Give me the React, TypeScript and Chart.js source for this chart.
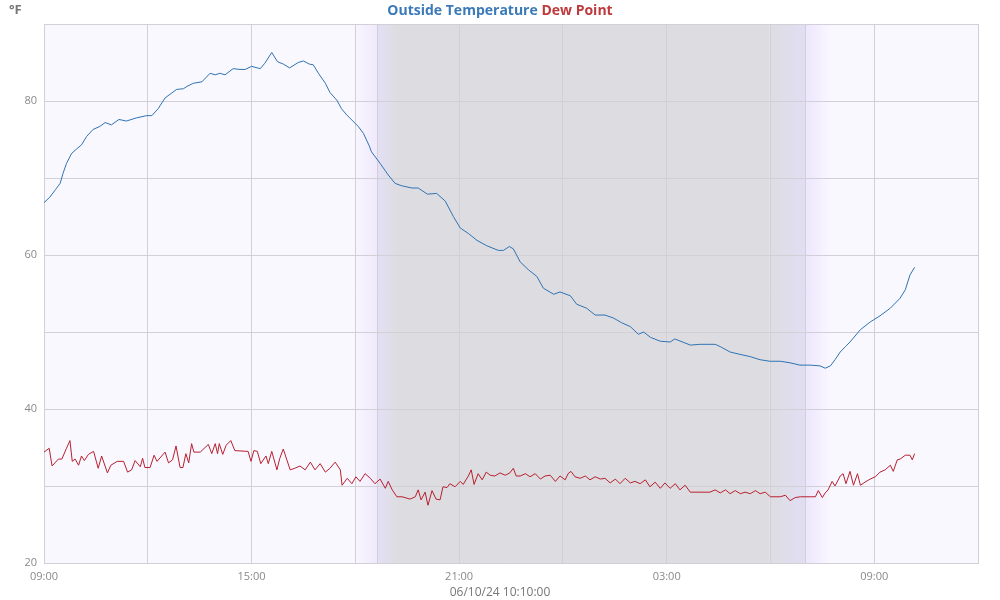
import React, { useEffect, useRef } from "react";
import { Chart, registerables } from "chart.js";

Chart.register(...registerables);

// minutes after 09:00 on the first day
const tempTimes = [0, 10, 20, 28, 33, 39, 48, 57, 65, 74, 85, 97, 106, 117, 130, 143, 160, 178, 187, 198, 210, 230, 242, 248, 259, 274, 288, 297, 305, 314, 328, 340, 349, 360, 375, 383, 395, 405, 415, 426, 441, 450, 460, 467, 476, 488, 496, 508, 516, 525, 537, 545, 554, 564, 568, 583, 597, 609, 620, 638, 649, 665, 681, 696, 710, 722, 736, 751, 768, 788, 797, 807, 814, 826, 840, 855, 866, 884, 895, 913, 924, 941, 956, 973, 988, 1002, 1017, 1031, 1040, 1052, 1069, 1086, 1094, 1121, 1138, 1164, 1173, 1190, 1207, 1225, 1242, 1259, 1277, 1294, 1311, 1329, 1346, 1355, 1364, 1372, 1381, 1390, 1398, 1416, 1433, 1450, 1468, 1485, 1494, 1502, 1510];
const tempValues = [66.8, 67.5, 68.5, 69.3, 70.6, 71.9, 73.2, 73.8, 74.3, 75.4, 76.3, 76.7, 77.2, 76.9, 77.6, 77.4, 77.8, 78.1, 78.1, 79.0, 80.4, 81.5, 81.6, 81.9, 82.3, 82.5, 83.6, 83.4, 83.6, 83.4, 84.2, 84.1, 84.1, 84.5, 84.2, 84.9, 86.3, 85.1, 84.8, 84.3, 85.0, 85.2, 84.8, 84.7, 83.6, 82.3, 81.1, 80.1, 79.0, 78.2, 77.3, 76.7, 75.8, 74.2, 73.4, 71.9, 70.4, 69.3, 69.0, 68.7, 68.7, 67.9, 68.0, 67.0, 65.0, 63.5, 62.8, 61.9, 61.2, 60.6, 60.6, 61.1, 60.8, 59.1, 58.1, 57.2, 55.7, 54.9, 55.2, 54.7, 53.6, 53.1, 52.2, 52.2, 51.8, 51.2, 50.7, 49.7, 50.0, 49.3, 48.8, 48.7, 49.1, 48.3, 48.4, 48.4, 48.1, 47.4, 47.1, 46.8, 46.4, 46.2, 46.2, 46.0, 45.7, 45.7, 45.6, 45.3, 45.6, 46.4, 47.4, 48.1, 48.7, 50.3, 51.3, 52.1, 53.1, 54.4, 55.5, 57.4, 58.4];

const dewTimes = [0, 9, 14, 25, 31, 39, 45, 49, 54, 60, 65, 70, 77, 86, 94, 100, 110, 116, 127, 138, 145, 152, 158, 167, 171, 175, 184, 191, 196, 210, 216, 223, 229, 236, 241, 246, 251, 256, 260, 271, 285, 291, 297, 301, 304, 310, 316, 324, 331, 352, 354, 359, 364, 370, 376, 385, 389, 395, 404, 409, 415, 427, 435, 444, 453, 462, 470, 479, 488, 496, 505, 514, 517, 526, 534, 541, 548, 557, 566, 574, 583, 592, 597, 604, 612, 621, 635, 644, 649, 654, 661, 666, 673, 680, 687, 692, 699, 704, 713, 722, 727, 736, 741, 746, 753, 760, 767, 774, 782, 791, 800, 808, 814, 819, 826, 835, 843, 852, 861, 869, 878, 887, 895, 904, 909, 914, 921, 930, 939, 947, 956, 965, 973, 982, 991, 999, 1008, 1017, 1025, 1034, 1043, 1051, 1060, 1069, 1077, 1086, 1095, 1103, 1112, 1121, 1138, 1155, 1164, 1173, 1182, 1190, 1199, 1208, 1216, 1225, 1234, 1242, 1251, 1260, 1277, 1286, 1294, 1303, 1312, 1329, 1338, 1343, 1350, 1355, 1360, 1367, 1372, 1381, 1386, 1391, 1398, 1404, 1411, 1416, 1424, 1433, 1442, 1450, 1459, 1468, 1473, 1480, 1485, 1494, 1502, 1506, 1510];
const dewValues = [34.4, 34.9, 32.6, 33.5, 33.5, 34.9, 35.9, 33.2, 33.5, 32.7, 33.9, 33.3, 34.1, 34.5, 32.3, 33.9, 31.7, 32.7, 33.2, 33.2, 31.8, 32.1, 33.3, 32.5, 33.6, 32.4, 32.4, 34.0, 33.2, 34.4, 33.0, 33.4, 35.2, 32.4, 32.4, 34.2, 33.0, 35.5, 34.4, 34.4, 35.4, 34.2, 35.5, 34.2, 35.5, 34.1, 35.3, 35.9, 34.6, 34.5, 34.5, 33.2, 34.6, 34.5, 32.9, 33.9, 32.9, 34.5, 32.1, 33.6, 34.8, 32.1, 32.3, 32.6, 32.1, 33.1, 32.1, 32.9, 31.8, 32.3, 33.1, 32.1, 30.1, 31.0, 30.3, 31.2, 30.6, 31.6, 31.0, 30.3, 30.9, 29.7, 30.6, 29.5, 28.6, 28.6, 28.3, 28.6, 29.5, 28.2, 29.2, 27.5, 29.4, 28.3, 28.2, 29.9, 29.8, 30.3, 29.9, 30.6, 30.2, 31.3, 32.1, 30.2, 31.6, 30.8, 31.8, 31.4, 31.3, 31.7, 31.4, 31.7, 32.3, 31.3, 31.3, 31.6, 31.2, 31.6, 30.9, 31.3, 31.4, 30.6, 31.3, 30.8, 31.6, 31.9, 31.2, 31.0, 31.3, 30.8, 31.2, 30.9, 31.0, 30.4, 30.9, 30.3, 31.0, 30.4, 30.6, 30.3, 30.8, 29.9, 30.5, 29.7, 30.4, 29.7, 30.3, 29.5, 30.1, 29.2, 29.2, 29.2, 29.5, 29.1, 29.5, 29.0, 29.4, 29.0, 29.2, 29.0, 29.4, 29.0, 29.2, 28.6, 28.6, 28.8, 28.1, 28.5, 28.6, 28.6, 28.6, 29.4, 28.5, 29.1, 29.5, 30.6, 30.0, 31.3, 31.6, 30.3, 31.9, 30.1, 31.6, 30.1, 30.5, 30.9, 31.2, 31.8, 32.1, 32.7, 31.9, 33.4, 33.5, 34.0, 34.0, 33.4, 34.2];

// night shading (minutes after 09:00)
const duskStart = 540;
const sunsetLine = 578;
const nightStart = 614;
const nightEnd = 1258;
const sunriseLine = 1320;
const dawnEnd = 1366;

const xMin = 0;
const xMax = 1620;
const yMin = 20;
const yMax = 90;

const seriesNames = ["Outside Temperature", "Dew Point"];
const unitLabel = "°F";
const stampLabel = "06/10/24 10:10:00";

const GRID = "#d2d0d6";

const shadePlugin = {
  id: "shade",
  beforeDraw(chart: any) {
    const { ctx, chartArea: a, scales } = chart;
    const x = scales.x;
    const px = (t: number) => x.getPixelForValue(t);
    ctx.save();
    ctx.fillStyle = "#faf8ff";
    ctx.fillRect(a.left, a.top, a.right - a.left, a.bottom - a.top);
    const h = a.bottom - a.top;
    const band = (t0: number, t1: number, c0: string, c1: string) => {
      const x0 = px(t0), x1 = px(t1);
      const g = ctx.createLinearGradient(x0, 0, x1, 0);
      g.addColorStop(0, c0);
      g.addColorStop(1, c1);
      ctx.fillStyle = g;
      ctx.fillRect(x0, a.top, x1 - x0, h);
    };
    band(duskStart, sunsetLine, "#f9f6fe", "#efe9fc");
    band(sunsetLine, nightStart, "#e3e0f5", "#dddde1");
    band(nightStart, nightEnd, "#dddde1", "#dddde1");
    band(nightEnd, sunriseLine, "#dddde1", "#e1def4");
    band(sunriseLine, dawnEnd, "#ede6fd", "#faf8ff");
    ctx.strokeStyle = GRID;
    ctx.lineWidth = 1;
    [sunsetLine, sunriseLine].forEach((t) => {
      const xx = Math.round(px(t)) + 0.5;
      ctx.beginPath();
      ctx.moveTo(xx, a.top);
      ctx.lineTo(xx, a.bottom);
      ctx.stroke();
    });
    ctx.restore();
  },
};

const toPoints = (ts: number[], vs: number[]) => ts.map((t, i) => ({ x: t, y: vs[i] }));

export default function App() {
  const ref = useRef<HTMLCanvasElement>(null);
  useEffect(() => {
    if (!ref.current) return;
    const chart = new Chart(ref.current, {
      type: "line",
      data: {
        datasets: [
          {
            label: seriesNames[0],
            data: toPoints(tempTimes, tempValues),
            borderColor: "#2f73b4",
            borderWidth: 1,
            pointRadius: 0,
            tension: 0,
          },
          {
            label: seriesNames[1],
            data: toPoints(dewTimes, dewValues),
            borderColor: "#b8202e",
            borderWidth: 1,
            pointRadius: 0,
            tension: 0,
          },
        ],
      },
      plugins: [shadePlugin],
      options: {
        animation: false,
        responsive: false,
        maintainAspectRatio: false,
        layout: { padding: { top: 24, right: 22, bottom: 0, left: 0 } },
        plugins: { legend: { display: false }, tooltip: { enabled: false }, title: { display: false } },
        scales: {
          x: {
            type: "linear",
            min: xMin,
            max: xMax,
            afterFit: (s: any) => { s.height = 37; },
            afterBuildTicks: (s: any) => {
              const t = [];
              for (let v = xMin; v <= xMax; v += 180) t.push({ value: v });
              s.ticks = t;
            },
            ticks: {
              autoSkip: false,
              maxRotation: 0,
              padding: 7,
              color: "#8a8a8a",
              font: { family: "'Open Sans'", size: 11 },
              callback: (v: any) => {
                if (v % 360 !== 0) return "";
                const h = Math.floor((540 + v) / 60) % 24;
                return String(h).padStart(2, "0") + ":00";
              },
            },
            grid: { color: GRID, drawTicks: false },
            border: { display: true, color: GRID },
          },
          y: {
            min: yMin,
            max: yMax,
            afterFit: (s: any) => { s.width = 44; },
            ticks: {
              stepSize: 10,
              padding: 7,
              color: "#8a8a8a",
              font: { family: "'Open Sans'", size: 11 },
              callback: (v: any) => (v % 20 === 0 ? String(v) : ""),
            },
            grid: { color: GRID, drawTicks: false },
            border: { display: true, color: GRID },
          },
        },
      },
    });
    return () => chart.destroy();
  }, []);

  return (
    <div style={{ position: "fixed", left: 0, top: 0, width: 1000, height: 600, background: "#fff", fontFamily: "'Open Sans', sans-serif" }}>
      <canvas ref={ref} width={1000} height={600} style={{ position: "absolute", left: 0, top: 0, width: 1000, height: 600 }} />
      <div style={{ position: "absolute", left: 0, top: 0, width: 1000, textAlign: "center", fontWeight: 700, fontSize: 14, lineHeight: "20px" }}>
        <span style={{ color: "#3b7ab8" }}>{seriesNames[0]}</span>{" "}
        <span style={{ color: "#bf3a3c" }}>{seriesNames[1]}</span>
      </div>
      <div style={{ position: "absolute", left: 9, top: 0, fontWeight: 700, fontSize: 13, lineHeight: "18px", color: "#777" }}>{unitLabel}</div>
      <div style={{ position: "absolute", left: 0, top: 583, width: 1000, textAlign: "center", fontSize: 12, lineHeight: "18px", color: "#777" }}>{stampLabel}</div>
    </div>
  );
}
